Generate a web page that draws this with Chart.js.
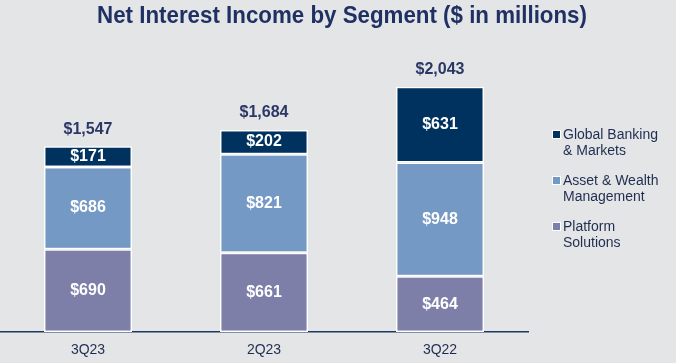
<!DOCTYPE html>
<html>
<head>
<meta charset="utf-8">
<script src="https://cdn.jsdelivr.net/npm/chart.js@4.4.0/dist/chart.umd.min.js"></script>
<style>
  html, body { margin: 0; padding: 0; background: #e4e5e7; }
  #wrap { position: relative; width: 676px; height: 363px; }
  #legend { position: absolute; left: 552px; top: 126px; font-family: "Liberation Sans", Arial, sans-serif; font-size: 14px; line-height: 16px; color: #1f2d50; }
  #legend .item { position: relative; padding-left: 11px; height: 46px; }
  #legend .box { position: absolute; left: 0; top: 4px; width: 9px; height: 9px; border: 1px solid #fff; box-sizing: border-box; }
</style>
</head>
<body>
<div id="wrap">
  <canvas id="chart" width="676" height="363"></canvas>
  <div id="legend"></div>
</div>
<script>
var quarters = ["3Q23", "2Q23", "3Q22"];
var platformSolutions = [690, 661, 464];
var assetWealth = [686, 821, 948];
var globalBanking = [171, 202, 631];
var totals = [1547, 1684, 2043];

var titleText = "Net Interest Income by Segment ($ in millions)";
var seriesNames = [["Global Banking", "& Markets"], ["Asset & Wealth", "Management"], ["Platform", "Solutions"]];
var colors = ["#00325f", "#7499c5", "#7e7fa8"];

function money(v) {
    return "$" + v.toLocaleString("en-US");
}

// 제목 (약간 좁은 글꼴 느낌으로 가로 축소)
var titlePlugin = {
    id: "narrowTitle",
    afterDraw: function(chart) {
        var ctx = chart.ctx;
        ctx.save();
        ctx.font = "bold 24px 'Liberation Sans', Arial, sans-serif";
        ctx.fillStyle = "#1f3163";
        ctx.textAlign = "center";
        ctx.textBaseline = "alphabetic";
        ctx.translate(342, 23);
        ctx.scale(0.93, 1);
        ctx.fillText(titleText, 0, 0);
        ctx.restore();
    }
};

// 막대 안 값 + 위쪽 합계 표시
var labelPlugin = {
    id: "segLabels",
    afterDatasetsDraw: function(chart) {
        var ctx = chart.ctx;
        ctx.save();
        ctx.textAlign = "center";
        ctx.textBaseline = "middle";
        ctx.font = "bold 16px 'Liberation Sans', Arial, sans-serif";
        ctx.fillStyle = "#ffffff";
        chart.data.datasets.forEach(function(ds, di) {
            var meta = chart.getDatasetMeta(di);
            meta.data.forEach(function(bar, i) {
                ctx.fillText(money(ds.data[i]), bar.x, (bar.y + bar.base) / 2);
            });
        });
        var top = chart.getDatasetMeta(chart.data.datasets.length - 1);
        ctx.fillStyle = "#2b3865";
        ctx.textBaseline = "bottom";
        top.data.forEach(function(bar, i) {
            ctx.fillText(money(totals[i]), bar.x, bar.y - 9);
        });
        ctx.restore();
    }
};

var ctx = document.getElementById("chart").getContext("2d");
new Chart(ctx, {
    type: "bar",
    data: {
        labels: quarters,
        datasets: [{
            label: "Platform Solutions",
            data: platformSolutions,
            backgroundColor: colors[2]
        }, {
            label: "Asset & Wealth Management",
            data: assetWealth,
            backgroundColor: colors[1]
        }, {
            label: "Global Banking & Markets",
            data: globalBanking,
            backgroundColor: colors[0]
        }]
    },
    options: {
        responsive: false,
        animation: false,
        layout: { padding: { left: 0, right: 148, top: 68, bottom: 0 } },
        datasets: {
            bar: {
                barPercentage: 0.5,
                categoryPercentage: 1,
                borderColor: "#ffffff",
                borderWidth: 1.5,
                borderSkipped: false
            }
        },
        plugins: {
            legend: { display: false },
            tooltip: { enabled: false },
            title: { display: false }
        },
        scales: {
            x: {
                stacked: true,
                grid: { display: false, drawTicks: false },
                border: { display: true, color: "#1c3a62", width: 1.5 },
                ticks: {
                    color: "#1f2d50",
                    padding: 10,
                    font: { family: "'Liberation Sans', Arial", size: 14 }
                },
                afterFit: function(scale) {
                    scale.height = 31;
                }
            },
            y: {
                stacked: true,
                display: false,
                min: 0,
                max: 2200
            }
        }
    },
    plugins: [labelPlugin, titlePlugin]
});

// 범례
var legendHtml = "";
seriesNames.forEach(function(name, i) {
    legendHtml += '<div class="item"><span class="box" style="background:' + colors[i] + '"></span>' + name.join("<br>") + '</div>';
});
document.getElementById("legend").innerHTML = legendHtml;
</script>
</body>
</html>
